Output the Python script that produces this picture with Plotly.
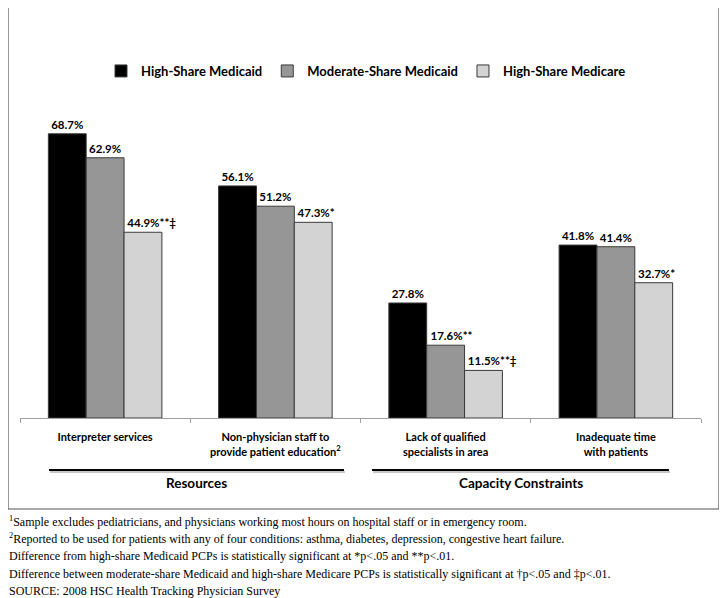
import plotly.graph_objects as go

# ---- data ----
categories = [
    "Interpreter services",
    "Non-physician staff to<br>provide patient education<sup>2</sup>",
    "Lack of qualified<br>specialists in area",
    "Inadequate time<br>with patients",
]
series_names = ["High-Share Medicaid", "Moderate-Share Medicaid", "High-Share Medicare"]
high_share_medicaid = [68.7, 56.1, 27.8, 41.8]
moderate_share_medicaid = [62.9, 51.2, 17.6, 41.4]
high_share_medicare = [44.9, 47.3, 11.5, 32.7]
marks_high_medicaid = ["", "", "", ""]
marks_moderate_medicaid = ["", "", "**", ""]
marks_high_medicare = ["**‡", "*", "**‡", "*"]
group_labels = ["Resources", "Capacity Constraints"]
footnotes = [
    "<sup>1</sup>Sample excludes pediatricians, and physicians working most hours on hospital staff or in emergency room.",
    "<sup>2</sup>Reported to be used for patients with any of four conditions: asthma, diabetes, depression, congestive heart failure.",
    "Difference from high-share Medicaid PCPs is statistically significant at *p<.05 and **p<.01.",
    "Difference between moderate-share Medicaid and high-share Medicare PCPs is statistically significant at †p<.05 and ‡p<.01.",
    "SOURCE: 2008 HSC Health Tracking Physician Survey",
]

colors = ["#000000", "#969696", "#d3d3d3"]
COND = "Lato, Roboto, sans-serif"
SERIF = "Liberation Serif, DejaVu Serif, serif"


def labels(values, marks):
    out = []
    for v, m in zip(values, marks):
        pad = "\u00a0" * (2 * len(m))
        out.append(f"{pad}<b>{v:.1f}%{m}</b>")
    return out


fig = go.Figure()
for name, vals, marks, col in zip(
    series_names,
    [high_share_medicaid, moderate_share_medicaid, high_share_medicare],
    [marks_high_medicaid, marks_moderate_medicaid, marks_high_medicare],
    colors,
):
    fig.add_trace(go.Bar(
        x=categories, y=vals, name=name,
        marker=dict(color=col, line=dict(color="#3a3a3a", width=1)),
        text=labels(vals, marks), textposition="outside",
        textfont=dict(family=COND, size=11.5, color="#000"),
        cliponaxis=False,
    ))

OFF = 8  # page body margin
W, H = 727, 598
ML, MR, MT, MB = 12, 34, 12, 188
pw = W - ML - MR
ph = H - MT - MB


def px(x):
    return (x - OFF - ML) / pw


def py(y):
    return (H - MB - (y - OFF)) / ph


shapes = []
annotations = []
# outer frame
shapes.append(dict(type="rect", xref="paper", yref="paper",
                   x0=px(8), x1=px(719), y0=py(509), y1=py(5),
                   line=dict(color="#555", width=1.2), layer="below"))
# group underlines
for (x0, x1), lab in zip([(49, 344), (372, 669)], group_labels):
    shapes.append(dict(type="line", xref="paper", yref="paper",
                       x0=px(x0 + 1), x1=px(x1 + 1), y0=py(472), y1=py(472),
                       line=dict(color="#c8c8c8", width=2)))
    shapes.append(dict(type="line", xref="paper", yref="paper",
                       x0=px(x0), x1=px(x1), y0=py(470), y1=py(470),
                       line=dict(color="#000", width=2)))
    annotations.append(dict(xref="paper", yref="paper", x=px((x0 + x1) / 2), y=py(483),
                            text=f"<b>{lab}</b>", showarrow=False,
                            font=dict(family=COND, size=13.5, color="#000"),
                            xanchor="center", yanchor="middle"))
# footnotes
for i, t in enumerate(footnotes):
    annotations.append(dict(xref="paper", yref="paper", x=px(7), y=py(521 + i * 17.6),
                            text=t, showarrow=False, align="left",
                            font=dict(family=SERIF, size=12, color="#000"),
                            xanchor="left", yanchor="middle"))

fig.update_layout(
    width=W, height=H,
    margin=dict(l=ML, r=MR, t=MT, b=MB),
    paper_bgcolor="white", plot_bgcolor="white",
    barmode="group", bargap=0.333, bargroupgap=0,
    uniformtext=dict(mode="show", minsize=11.5),
    showlegend=True,
    legend=dict(orientation="h", x=px(366), y=py(71), xanchor="center", yanchor="middle",
                font=dict(family=COND, size=13, color="#000", weight="bold"),
                itemclick=False, itemdoubleclick=False),
    xaxis=dict(showline=True, linecolor="#a0a0a0", linewidth=1,
               ticks="outside", tickson="boundaries", ticklen=4, tickcolor="#a0a0a0",
               tickfont=dict(family=COND, size=11, color="#000"),
               ticklabelstandoff=9, showgrid=False, zeroline=False, fixedrange=True),
    yaxis=dict(range=[0, ph / 4.137], visible=False, fixedrange=True),
    shapes=shapes, annotations=annotations,
)
fig.for_each_xaxis(lambda a: a.update(ticktext=[f"<b>{c}</b>" for c in categories], tickvals=categories))

fig.write_html("out.html")
